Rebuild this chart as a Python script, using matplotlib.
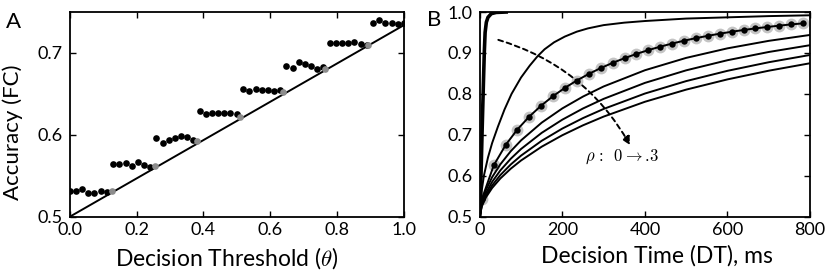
import matplotlib
matplotlib.use("Agg")
import matplotlib.pyplot as plt

plt.rcParams['font.family'] = ['Lato', 'DejaVu Sans']
plt.rcParams['mathtext.fontset'] = 'cm'

# ---------------- Panel A data ----------------
theta_black = [0.000, 0.0185, 0.037, 0.0556, 0.0741, 0.0926, 0.111,
               0.130, 0.148, 0.167, 0.185, 0.204, 0.222, 0.241,
               0.259, 0.278, 0.296, 0.315, 0.333, 0.352, 0.370,
               0.389, 0.407, 0.426, 0.444, 0.463, 0.481, 0.500,
               0.519, 0.537, 0.556, 0.574, 0.593, 0.611, 0.630,
               0.648, 0.667, 0.685, 0.704, 0.722, 0.741, 0.759,
               0.778, 0.796, 0.815, 0.833, 0.852, 0.870, 0.889,
               0.907, 0.926, 0.944, 0.963, 0.981, 1.000]
acc_black = [0.532, 0.531, 0.534, 0.529, 0.529, 0.532, 0.530,
             0.565, 0.565, 0.566, 0.562, 0.567, 0.563, 0.561,
             0.596, 0.590, 0.594, 0.596, 0.599, 0.597, 0.594,
             0.629, 0.625, 0.627, 0.627, 0.627, 0.627, 0.625,
             0.656, 0.653, 0.656, 0.655, 0.655, 0.654, 0.655,
             0.684, 0.682, 0.689, 0.687, 0.684, 0.681, 0.683,
             0.712, 0.712, 0.712, 0.712, 0.713, 0.711, 0.710,
             0.736, 0.740, 0.737, 0.736, 0.735, 0.736]
theta_gray = [0.127, 0.255, 0.382, 0.509, 0.637, 0.764, 0.891]
acc_gray = [0.531, 0.562, 0.592, 0.622, 0.652, 0.681, 0.710]
theta_line = [0.0, 1.0]
acc_line = [0.500, 0.734]

# ---------------- Panel B data ----------------
t_rho0 = [0, 3, 6, 9, 11, 13, 16, 20, 28, 40, 64]
acc_rho0 = [0.50, 0.60, 0.72, 0.83, 0.90, 0.95, 0.975, 0.987, 0.996, 0.999, 1.0]

t_rho05 = [0, 5, 10, 20, 30, 44, 60, 77, 100, 121, 140, 157, 180, 206, 235, 262,
           300, 350, 400, 500, 600, 700, 800]
acc_rho05 = [0.50, 0.565, 0.60, 0.645, 0.68, 0.72, 0.762, 0.80, 0.840, 0.869, 0.892,
             0.909, 0.926, 0.940, 0.952, 0.960, 0.968, 0.974, 0.978, 0.984, 0.987,
             0.990, 0.992]

t_dots = [0, 5, 34, 63, 91, 120, 149, 178, 207, 235, 264, 293, 322, 351, 379, 408,
          437, 466, 495, 523, 552, 581, 610, 639, 667, 696, 725, 754, 783]
acc_dots = [0.500, 0.5428, 0.6258, 0.6757, 0.7130, 0.7447, 0.7716, 0.7950, 0.8153, 0.8327,
            0.8488, 0.8631, 0.8759, 0.8874, 0.8975, 0.9069, 0.9153, 0.9230, 0.9300,
            0.9361, 0.9418, 0.9470, 0.9518, 0.9561, 0.9599, 0.9634, 0.9667, 0.9697, 0.9723]

t_grid = [0, 5, 15, 30, 50, 75, 100, 150, 200, 250, 300, 400, 500, 600, 700, 800]
acc_rho15 = [0.50, 0.5351, 0.5654, 0.5967, 0.6282, 0.6600, 0.6865, 0.7298, 0.7646, 0.7935,
             0.8182, 0.8578, 0.8880, 0.9113, 0.9296, 0.9440]
acc_rho20 = [0.50, 0.5309, 0.5576, 0.5852, 0.6133, 0.6416, 0.6655, 0.7049, 0.7371, 0.7644,
             0.7879, 0.8269, 0.8576, 0.8823, 0.9024, 0.9190]
acc_rho25 = [0.50, 0.5277, 0.5517, 0.5766, 0.6019, 0.6276, 0.6493, 0.6855, 0.7154, 0.7409,
             0.7633, 0.8009, 0.8313, 0.8564, 0.8774, 0.8951]
acc_rho30 = [0.50, 0.5254, 0.5474, 0.5703, 0.5936, 0.6173, 0.6374, 0.6711, 0.6991, 0.7233,
             0.7446, 0.7808, 0.8105, 0.8355, 0.8567, 0.8749]

fig = plt.figure(figsize=(8.3, 2.73), dpi=100)
axA = fig.add_axes([0.084, 0.206, 0.4027, 0.750])
axB = fig.add_axes([0.578, 0.206, 0.398, 0.750])

for ax in (axA, axB):
    ax.tick_params(direction='in', top=True, right=True, length=4, width=1.0,
                   labelsize=13)
    ax.tick_params(axis='y', pad=5)
    ax.tick_params(axis='x', pad=4)
    for sp in ax.spines.values():
        sp.set_linewidth(1.3)

# Panel A
axA.plot(theta_line, acc_line, color='black', lw=1.4, zorder=2)
axA.plot(theta_black, acc_black, 'o', color='black', ms=4.8, mec='none', zorder=3)
axA.plot(theta_gray, acc_gray, 'o', color='#8c8c8c', ms=4.8, mec='none', zorder=4)
axA.set_xlim(0, 1)
axA.set_ylim(0.5, 0.75)
axA.set_xticks([0.0, 0.2, 0.4, 0.6, 0.8, 1.0])
axA.set_yticks([0.5, 0.6, 0.7])
axA.set_xlabel(r'Decision Threshold ($\theta$)', fontsize=16.5)
axA.set_ylabel('Accuracy (FC)', fontsize=16)
axA.xaxis.set_label_coords(0.47, -0.14)
axA.yaxis.set_label_coords(-0.14, 0.414)
fig.text(0.0075, 0.919, 'A', fontsize=16, va='center', ha='left')

# Panel B
axB.plot(t_rho0, acc_rho0, color='black', lw=2.6, zorder=3)
axB.plot(t_rho05, acc_rho05, color='black', lw=1.4, zorder=3)
axB.plot(t_dots, acc_dots, color='black', lw=1.4, zorder=3)
axB.plot(t_dots[1:], acc_dots[1:], 'o', color='#c4c4c4', ms=8.5, mec='none', zorder=2)
axB.plot(t_dots[1:], acc_dots[1:], 'o', color='black', ms=4.6, mec='none', zorder=4)
for acc in (acc_rho15, acc_rho20, acc_rho25, acc_rho30):
    axB.plot(t_grid, acc, color='black', lw=1.4, zorder=3)

axB.annotate('', xy=(364, 0.675), xytext=(45, 0.932),
             arrowprops=dict(arrowstyle='-|>', linestyle=(0, (2.5, 2)), lw=1.4,
                             color='black', connectionstyle='arc3,rad=-0.2',
                             mutation_scale=12, shrinkA=0, shrinkB=0), zorder=5)
axB.text(255, 0.646, r'$\rho\,:\ \,0 \rightarrow .\!3$', fontsize=12, ha='left', va='center')

axB.set_xlim(0, 800)
axB.set_ylim(0.5, 1.0)
axB.set_xticks([0, 200, 400, 600, 800])
axB.set_yticks([0.5, 0.6, 0.7, 0.8, 0.9, 1.0])
axB.set_xlabel('Decision Time (DT), ms', fontsize=16.5)
axB.xaxis.set_label_coords(0.536, -0.14)
fig.text(0.514, 0.927, 'B', fontsize=16, va='center', ha='left')

fig.savefig('out.png', dpi=100)
